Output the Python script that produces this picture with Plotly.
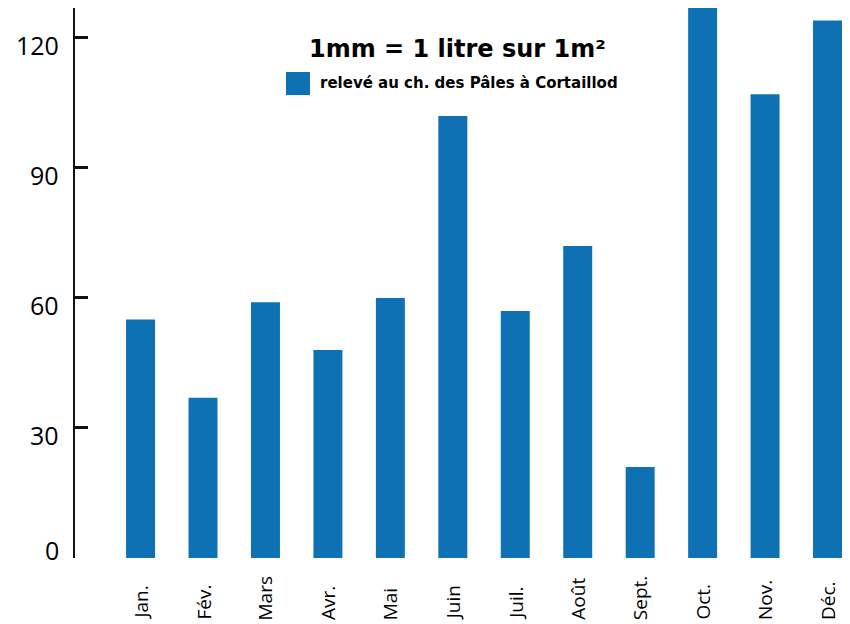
import plotly.graph_objects as go

months = ["Jan.", "Fév.", "Mars", "Avr.", "Mai", "Juin", "Juil.", "Août", "Sept.", "Oct.", "Nov.", "Déc."]
rain_mm = [55, 37, 59, 48, 60, 102, 57, 72, 21, 130, 107, 124]
y_ticks = [0, 30, 60, 90, 120]
title_text = "1mm = 1 litre sur 1m²"
legend_text = "relevé au ch. des Pâles à Cortaillod"

BAR = "#0d71b4"
OFF = 8  # page body margin
W, H = 850 - OFF, 624 - OFF
ML, MR, MT, MB = 75 - OFF, 0, 0, 616 - 550
PW, PH = W - ML - MR, H - MT - MB

def px_x(p):
    return (p - OFF - ML) / PW

def px_y(p):
    return 1 - (p - OFF - MT) / PH

fig = go.Figure()
fig.add_trace(go.Bar(x=months, y=rain_mm, marker=dict(color=BAR, line=dict(width=0)),
                     name=legend_text, showlegend=False))

annotations = []
for m in months:
    annotations.append(dict(x=m, xref="x", y=px_y(622), yref="paper", text=m, textangle=-90,
                            showarrow=False, xanchor="center", yanchor="bottom",
                            font=dict(family="Open Sans", size=19, color="#000")))
for v in y_ticks:
    annotations.append(dict(x=px_x(61), xref="paper", y=v, yref="y", text=str(v),
                            showarrow=False, xanchor="right", yanchor="middle",
                            yshift=(8 if v == 0 else -7),
                            font=dict(family="Open Sans", size=25, color="#000")))
annotations.append(dict(x=px_x(457), y=px_y(49), xref="paper", yref="paper", text="<b>" + title_text + "</b>",
                        showarrow=False, xanchor="center", yanchor="middle",
                        font=dict(family="DejaVu Sans", size=24, color="#000")))
annotations.append(dict(x=px_x(318), y=px_y(83), xref="paper", yref="paper", text="<b>" + legend_text + "</b>",
                        showarrow=False, xanchor="left", yanchor="middle",
                        font=dict(family="DejaVu Sans", size=15, color="#000")))

shapes = [
    dict(type="rect", xref="paper", yref="paper", x0=px_x(286), x1=px_x(310), y0=px_y(95), y1=px_y(72),
         fillcolor=BAR, line=dict(width=0)),
]

fig.update_layout(
    width=W, height=H,
    margin=dict(l=ML, r=MR, t=MT, b=MB, pad=0),
    plot_bgcolor="white", paper_bgcolor="white",
    bargap=0.536,
    annotations=annotations,
    shapes=shapes,
    xaxis=dict(type="category", range=[-1.05, 11.36], showticklabels=False, ticks="",
               showline=False, showgrid=False, zeroline=False, fixedrange=True),
    yaxis=dict(range=[0, 126.9], tickvals=y_ticks, showticklabels=False,
               ticks="inside", ticklen=13, tickwidth=2.5, tickcolor="#111",
               showline=True, linecolor="#111", linewidth=1.5,
               showgrid=False, zeroline=False),
)

fig.write_html("out.html")
